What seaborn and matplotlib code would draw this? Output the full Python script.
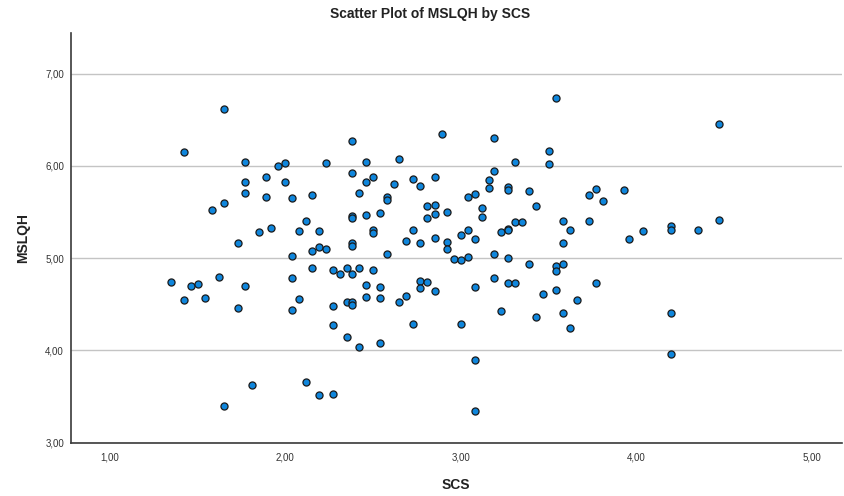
import matplotlib
matplotlib.use("Agg")
import matplotlib.pyplot as plt
import seaborn as sns
import pandas as pd

scs = [
    1.65, 1.42, 1.77, 1.96, 2.00, 2.23, 1.89, 1.77, 2.00, 1.77, 1.89, 2.04, 2.15, 1.65, 1.58, 2.12,
    1.92, 1.85, 2.08, 2.19, 1.73, 2.15, 2.19, 2.23, 2.04,
    2.38, 2.89, 3.19, 3.50, 2.46, 2.65, 3.31, 3.50, 2.38, 3.19, 2.50, 2.46, 2.73, 2.77, 2.85, 2.62,
    3.16, 3.16, 3.27, 3.27, 3.39, 2.42, 2.58, 2.58, 3.04, 3.08, 3.43, 2.81, 2.85, 2.85, 2.81, 2.92,
    3.12, 3.12, 2.38, 2.38, 2.46, 2.54, 2.50, 2.50, 2.73, 2.69, 2.77, 2.85, 2.92, 2.92, 3.00, 3.04,
    3.08, 3.23, 3.27, 3.27, 3.31, 3.35, 2.38, 2.38,
    3.54, 3.73, 3.77, 3.81, 3.93, 3.58, 3.62, 3.58, 3.73, 3.96, 4.04, 4.20, 4.20, 4.35, 4.47, 4.47,
    2.15, 1.35, 1.46, 1.50, 1.62, 1.77, 2.04, 1.42, 1.54, 1.73, 2.08, 2.04, 1.81, 2.12, 2.19, 1.65,
    2.58, 2.96, 3.00, 3.04, 3.19, 3.27, 3.39, 2.27, 2.31, 2.35, 2.38, 2.42, 2.50, 2.46, 2.54, 2.46,
    2.54, 2.35, 2.38, 2.38, 2.27, 2.77, 2.81, 2.77, 2.85, 2.69, 2.65, 3.08, 3.19, 3.27, 3.31, 3.47,
    3.23, 3.43, 2.27, 2.73, 3.00, 2.35, 2.42, 2.54, 3.08, 2.27, 3.08,
    3.54, 3.54, 3.58, 3.77, 3.54, 3.66, 3.58, 3.62, 4.20, 4.20,
]
mslqh = [
    6.62, 6.15, 6.04, 6.00, 6.03, 6.03, 5.88, 5.82, 5.82, 5.71, 5.66, 5.65, 5.68, 5.60, 5.52, 5.40,
    5.33, 5.28, 5.29, 5.29, 5.16, 5.08, 5.12, 5.10, 5.02,
    6.27, 6.34, 6.30, 6.16, 6.04, 6.07, 6.04, 6.02, 5.92, 5.94, 5.88, 5.83, 5.86, 5.78, 5.88, 5.80,
    5.85, 5.76, 5.77, 5.74, 5.73, 5.71, 5.66, 5.63, 5.66, 5.69, 5.57, 5.56, 5.58, 5.48, 5.43, 5.50,
    5.54, 5.45, 5.46, 5.43, 5.47, 5.49, 5.31, 5.27, 5.30, 5.19, 5.16, 5.22, 5.17, 5.10, 5.25, 5.31,
    5.21, 5.28, 5.32, 5.30, 5.39, 5.39, 5.16, 5.13,
    6.74, 5.68, 5.75, 5.62, 5.74, 5.40, 5.31, 5.16, 5.40, 5.21, 5.29, 5.35, 5.30, 5.30, 6.45, 5.41,
    4.89, 4.74, 4.70, 4.72, 4.80, 4.70, 4.78, 4.55, 4.57, 4.46, 4.56, 4.44, 3.63, 3.66, 3.52, 3.40,
    5.05, 4.99, 4.98, 5.01, 5.04, 5.00, 4.94, 4.87, 4.83, 4.89, 4.83, 4.89, 4.87, 4.71, 4.69, 4.58,
    4.57, 4.52, 4.52, 4.49, 4.48, 4.75, 4.74, 4.68, 4.64, 4.59, 4.53, 4.69, 4.78, 4.73, 4.73, 4.61,
    4.43, 4.36, 4.27, 4.29, 4.29, 4.14, 4.04, 4.08, 3.90, 3.53, 3.34,
    4.91, 4.86, 4.94, 4.73, 4.65, 4.55, 4.41, 4.24, 4.40, 3.96,
]
x_ticks = [1.0, 2.0, 3.0, 4.0, 5.0]
y_ticks = [3.0, 4.0, 5.0, 6.0, 7.0]

df = pd.DataFrame({"SCS": scs, "MSLQH": mslqh})

sns.set_theme(style="white")
plt.rcParams["font.family"] = ["Liberation Sans", "DejaVu Sans"]

fig = plt.figure(figsize=(8.44, 4.96), dpi=100)
ax = fig.add_axes([0.0841, 0.1075, 0.913, 0.826])

sns.scatterplot(data=df, x="SCS", y="MSLQH", ax=ax, s=26, color="#0f86dc",
                edgecolor="#1a1a1a", linewidth=0.9, zorder=3)

ax.set_xlim(0.778, 5.17)
ax.set_ylim(3.0, 7.44)
ax.set_xticks(x_ticks)
ax.set_yticks(y_ticks)
ax.set_xticklabels([f"{v:.2f}".replace(".", ",") for v in x_ticks], fontsize=7, color="#333333")
ax.set_yticklabels([f"{v:.2f}".replace(".", ",") for v in y_ticks], fontsize=7, color="#333333")
ax.tick_params(axis="x", length=0, pad=7)
ax.tick_params(axis="y", length=0, pad=5)
ax.yaxis.grid(True, color="#c4c4c4", linewidth=1.0, zorder=0)
ax.xaxis.grid(False)
for side in ["top", "right"]:
    ax.spines[side].set_visible(False)
for side in ["left", "bottom"]:
    ax.spines[side].set_color("#3a3a3a")
    ax.spines[side].set_linewidth(1.2)

ax.set_xlabel("SCS", fontsize=10, fontweight="bold", labelpad=11.5, color="#222222")
ax.set_ylabel("MSLQH", fontsize=10, fontweight="bold", labelpad=10.5, color="#222222")
fig.suptitle("Scatter Plot of MSLQH by SCS", fontsize=10, fontweight="bold", x=0.51, y=0.985,
             color="#222222")

fig.savefig("out.png", dpi=100)
